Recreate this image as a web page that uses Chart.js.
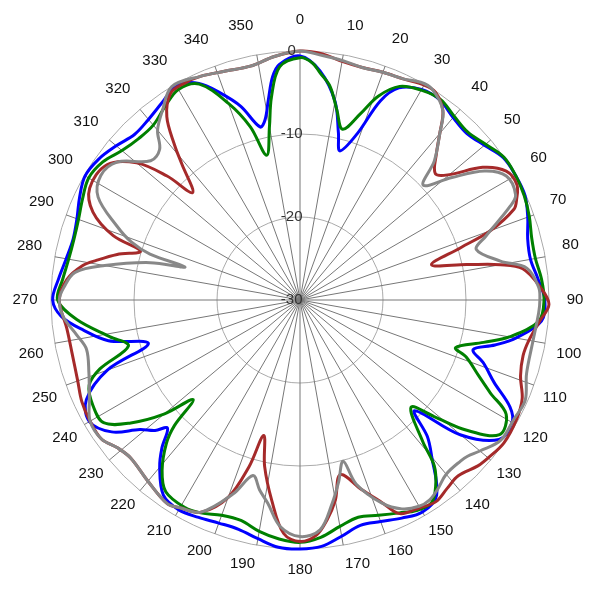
<!DOCTYPE html>
<html>
<head>
<meta charset="utf-8">
<script src="https://cdn.jsdelivr.net/npm/chart.js@4/dist/chart.umd.min.js"></script>
<style>
html, body { margin: 0; padding: 0; background: #ffffff; }
#wrap { width: 600px; height: 600px; }
</style>
</head>
<body>
<div id="wrap"><canvas id="c" width="600" height="600"></canvas></div>
<script>
// Categories: azimuth in degrees (one slot per degree, 0 at top, clockwise)
const degrees = Array.from({ length: 360 }, (_, i) => i);
// Ring values (dB)
const ringMin = -30;
const ringMax = 0;
const ringStep = 10;

// Series: [azimuth deg, level dB]
const blueSeries = [
  [0,-0.6],[5,-2.3],[10,-5.7],[13,-9.4],[15,-11.4],[19,-8.8],[22,-4.1],[25,-1.8],[30,-0.7],[35,-0.6],
  [40,-1.3],[45,-1.6],[50,-1.0],[55,-0.1],[60,0],[65,-0.1],[70,-0.8],[75,-1.6],[80,-1.8],[85,-1.2],
  [90,-0.5],[95,-0.8],[100,-3.6],[103,-5.9],[106,-8.3],[109,-6.6],[113,-4.6],[117,-1.6],[120,-0.5],
  [125,-0.7],[130,-4.7],[134,-10.8],[137,-7.5],[140,-5.3],[145,-1.3],[150,-0.5],[155,-1.0],[160,-1.6],[165,-1.9],
  [170,-1.1],[175,-0.2],[180,0],[185,-0.1],[190,-0.8],[195,-1.4],[200,-1.4],[205,-1.1],[210,-0.8],[215,-1.3],
  [220,-3.7],[223,-5.6],[226,-7.8],[228,-6.5],[231,-5.2],[235,-2.3],[240,-0.7],[245,-1.6],[250,-5.3],[254,-11.0],
  [258,-6.4],[262,-3.7],[266,-1.2],[270,-0.2],[275,-0.8],[280,-1.4],[285,-1.7],[290,-1.4],[295,-0.7],[300,-0.1],
  [305,-0.4],[310,-1.1],[315,-1.8],[320,-1.6],[325,-1.0],[330,-0.2],[335,-1.2],[339,-3.3],[343,-5.6],[347,-8.6],
  [349,-7.9],[351,-5.6],[353,-2.9],[355,-1.5]
];
const greenSeries = [
  [0,-0.8],[3,-1.4],[5,-2.5],[8,-4.0],[11,-6.7],[14,-8.8],[18,-6.4],[21,-3.7],[25,-1.6],[30,-0.8],
  [35,-0.5],[40,-1.1],[45,-1.4],[50,-0.8],[55,0],[60,0],[65,-0.2],[70,-0.6],[75,-1.1],[80,-1.2],
  [85,-0.8],[90,-0.6],[95,-1.1],[100,-4.4],[103,-7.3],[107,-10.4],[109,-8.8],[113,-6.6],[116,-4.5],[119,-1.6],
  [124,-1.0],[128,-4.5],[131,-8.6],[134,-11.4],[139,-7.5],[141,-4.3],[144,-2.2],[147,-0.9],[151,-1.0],[155,-1.7],
  [160,-2.4],[165,-2.9],[170,-2.3],[175,-1.3],[180,-0.8],[185,-1.1],[190,-1.7],[195,-2.5],[200,-2.4],[205,-1.7],
  [209,-1.4],[215,-1.8],[219,-3.6],[223,-6.4],[225,-8.6],[227,-12.4],[230,-8.6],[234,-4.8],[238,-2.1],[243,-2.0],
  [248,-2.6],[251,-4.5],[255,-8.6],[259,-6.7],[265,-3.0],[270,-0.8],[275,-1.3],[280,-1.7],[285,-1.8],[290,-1.6],
  [295,-1.1],[300,-0.6],[305,-1.0],[310,-2.0],[315,-2.5],[320,-2.5],[325,-1.6],[330,-0.7],[335,-1.3],[340,-4.8],
  [344,-8.3],[347,-12.1],[350,-8.8],[352,-5.3],[355,-1.8]
];
const redSeries = [
  [0,0],[5,-0.2],[10,-0.8],[15,-1.0],[20,-0.8],[25,-0.6],[30,-0.1],[33,-0.1],[37,-1.4],[40,-3.8],
  [43,-5.9],[47,-7.7],[50,-6.5],[54,-2.8],[58,-0.7],[62,-0.4],[65,-1.2],[67,-2.0],[70,-5.6],[72,-9.7],
  [75,-13.6],[78,-9.5],[80,-5.5],[82,-2.9],[87,-1.0],[91,0],[95,-1.0],[100,-2.0],[104,-2.3],[109,-1.9],
  [114,-0.7],[119,-0.2],[125,0],[130,-0.4],[133,-0.7],[138,-1.5],[142,-1.2],[146,-0.7],
  [150,-1.1],[155,-1.6],[158,-3.7],[162,-6.0],[167,-8.4],[170,-5.5],[173,-3.3],[176,-1.6],[180,-0.9],[184,-1.8],
  [188,-5.6],[192,-9.5],[195,-13.1],[197,-9.0],[200,-4.7],[205,-1.8],[210,-1.1],[213,-0.7],[220,-1.5],[227,-2.1],
  [231,-1.7],[235,-0.8],[240,-0.8],[245,-1.0],[250,-1.5],[257,-1.8],[263,-1.7],[270,-1.0],[275,-1.8],[279,-3.5],
  [281,-5.0],[284,-7.3],[287,-9.9],[289,-6.2],[293,-2.9],[298,-1.3],[305,-1.6],[310,-4.3],[313,-8.1],[315,-11.7],
  [319,-8.3],[321,-6.0],[324,-2.7],[328,-0.6],[332,-0.4],[336,-0.5],[342,-1.0],[348,-1.2],[354,-0.5]
];
const graySeries = [
  [0,0],[5,-0.4],[10,-0.7],[15,-1.0],[20,-0.8],[25,-0.6],[29,0],[32,0],[37,-1.4],[40,-3.8],
  [44,-6.7],[47,-9.7],[51,-6.6],[55,-2.9],[59,-1.0],[64,-1.1],[66,-2.3],[71,-6.3],[74,-7.9],[79,-5.4],
  [82,-2.4],[87,-1.2],[90,-1.1],[93,-1.2],[100,-1.5],[108,-1.3],[114,-0.3],[119,-0.5],[125,-0.5],[130,-1.7],
  [133,-2.4],[135,-2.6],[140,-2.6],[144,-1.8],[147,-1.3],[150,-1.3],[154,-2.0],[158,-3.6],[163,-6.8],[165,-9.9],
  [168,-7.6],[171,-5.2],[175,-2.2],[180,-1.5],[185,-2.6],[189,-5.2],[192,-6.6],[195,-8.1],[199,-5.3],[205,-1.8],
  [210,-1.1],[213,-0.7],[220,-1.5],[227,-2.1],[231,-1.7],[235,-0.8],[240,-0.8],[245,-2.0],[251,-3.1],[257,-3.6],
  [261,-2.8],[266,-1.4],[270,-1.0],[273,-1.5],[277,-2.7],[280,-6.1],[284,-11.4],[286,-15.6],[287,-11.1],[289,-8.5],
  [292,-6.2],[297,-2.7],[302,-1.7],[307,-2.4],[313,-5.4],[317,-5.2],[320,-3.3],[324,-1.8],[329,0],[336,-0.5],
  [342,-1.0],[348,-1.2],[354,-0.5]
];

// Place each read sample into its degree slot (others left empty and spanned)
function toSlots(series) {
  const slots = degrees.map(() => null);
  series.forEach(([deg, db]) => { slots[deg] = db; });
  return slots;
}

const FONT = '"Liberation Sans", Arial, Helvetica, sans-serif';

function ds(series, color) {
  return {
    data: toSlots(series),
    borderColor: color,
    backgroundColor: color,
    borderWidth: 3,
    fill: false,
    spanGaps: true,
    tension: 0.35,
    pointRadius: 0,
    pointHoverRadius: 0,
    pointHitRadius: 0
  };
}

new Chart(document.getElementById('c'), {
  type: 'radar',
  data: {
    labels: degrees,
    datasets: [
      ds(graySeries, '#888888'),
      ds(redSeries, '#a52a2a'),
      ds(greenSeries, '#008000'),
      ds(blueSeries, '#0000ff')
    ]
  },
  options: {
    responsive: false,
    animation: false,
    events: [],
    layout: { padding: { left: 9, right: 13, top: 6, bottom: 16 } },
    plugins: { legend: { display: false }, tooltip: { enabled: false } },
    scales: {
      r: {
        min: ringMin,
        max: ringMax,
        startAngle: 0,
        ticks: {
          stepSize: ringStep,
          color: '#333333',
          font: { size: 15, family: FONT },
          showLabelBackdrop: false,
          backdropPadding: -7.5,
          z: 1,
          callback: (v) => String(v) + '    '
        },
        grid: { circular: true, color: '#aaaaaa', lineWidth: 1 },
        angleLines: {
          color: '#777777',
          lineWidth: (ctx) => (degrees[ctx.index] % 10 === 0 ? 1 : 0)
        },
        pointLabels: {
          color: '#111111',
          font: { size: 15, family: FONT },
          callback: (label) => (label % 10 === 0 ? String(label) : ''),
          padding: (ctx) => {
            const a = degrees[ctx.index];
            if (a % 10 !== 0) return 0;
            const t = a * Math.PI / 180;
            const w = String(a).length * 8.34;
            return 26 + 5 * Math.cos(t) - (w / 2) * Math.abs(Math.sin(t)) - 9 * Math.abs(Math.cos(t));
          }
        }
      }
    }
  }
});
</script>
</body>
</html>
